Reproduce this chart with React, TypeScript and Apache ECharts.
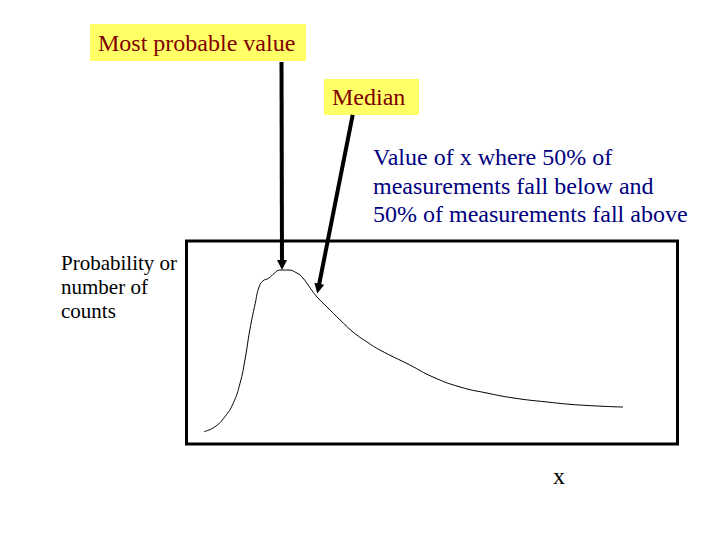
import React, { useEffect, useRef } from 'react';
import * as echarts from 'echarts';

// Curve (arbitrary units: x 0..100 across the box, y 0..100 up the box)
const curveX = [3.6, 5.8, 7.8, 9.5, 10.9, 11.9, 12.9, 14.0, 14.8, 15.6, 16.7, 17.9, 19.0, 20.7, 22.5, 23.7, 25.2, 26.6, 28.6, 31.3, 33.9, 36.8, 39.4, 45.5, 50.2, 55.7, 61.2, 66.5, 73.4, 80.1, 88.9];
const curveY = [6.1, 8.5, 13.4, 20.0, 29.9, 41.4, 56.2, 69.3, 77.5, 80.4, 81.6, 84.1, 85.7, 85.7, 84.2, 81.8, 76.8, 72.4, 67.5, 61.1, 55.2, 50.2, 46.3, 38.9, 33.0, 28.1, 25.1, 22.7, 20.7, 19.2, 18.2];

// Arrows: [start, tip] in the same data units
const modeArrow = [[19.35, 188.2], [19.45, 85.7]];
const medianArrow = [[33.85, 162.1], [26.64, 74.1]];

const modeLabel = 'Most probable value';
const medianLabel = 'Median';
const medianNote = 'Value of x where 50% of\nmeasurements fall below and\n50% of measurements fall above';
const yLabel = 'Probability or\nnumber of\ncounts';
const xLabel = 'x';

const FONT = 'Liberation Serif';

export default function App() {
  const ref = useRef<HTMLDivElement>(null);
  useEffect(() => {
    if (!ref.current) return;
    const chart = echarts.init(ref.current, undefined, { renderer: 'svg' });
    chart.setOption({
      animation: false,
      backgroundColor: '#ffffff',
      textStyle: { fontFamily: FONT },
      grid: {
        left: 186.5,
        top: 241,
        width: 491,
        height: 203,
        show: true,
        borderColor: '#000000',
        borderWidth: 3,
        backgroundColor: 'transparent',
      },
      xAxis: { type: 'value', min: 0, max: 100, show: false },
      yAxis: { type: 'value', min: 0, max: 100, show: false },
      series: [
        {
          type: 'line',
          data: curveX.map((x, i) => [x, curveY[i]]),
          smooth: 0.5,
          showSymbol: false,
          lineStyle: { color: '#000000', width: 1 },
        },
      ],
    });

    const arrowGraphics = (arrow: number[][]) => {
      const s = chart.convertToPixel({ gridIndex: 0 }, arrow[0]) as number[];
      const t = chart.convertToPixel({ gridIndex: 0 }, arrow[1]) as number[];
      const dx = t[0] - s[0];
      const dy = t[1] - s[1];
      const len = Math.sqrt(dx * dx + dy * dy);
      const ux = dx / len;
      const uy = dy / len;
      const L = 10;
      const W = 5;
      const bx = t[0] - ux * L;
      const by = t[1] - uy * L;
      const nx = -uy;
      const ny = ux;
      return [
        {
          type: 'line',
          shape: { x1: s[0], y1: s[1], x2: bx + ux * 1, y2: by + uy * 1 },
          style: { stroke: '#000000', lineWidth: 4 },
          z: 10,
        },
        {
          type: 'polygon',
          shape: {
            points: [
              [t[0], t[1]],
              [bx + nx * W, by + ny * W],
              [bx - nx * W, by - ny * W],
            ],
          },
          style: { fill: '#000000' },
          z: 10,
        },
      ];
    };

    const txt = (text: string, x: number, y: number, size: number, fill: string, extra: any = {}) => ({
      type: 'text',
      z: 6,
      style: {
        text,
        x,
        y,
        align: 'left',
        verticalAlign: 'middle',
        fontFamily: FONT,
        fontSize: size,
        fill,
        ...extra,
      },
    });

    const noteLines = medianNote.split('\n');
    const yLines = yLabel.split('\n');

    chart.setOption({
      graphic: [
        ...arrowGraphics(modeArrow),
        ...arrowGraphics(medianArrow),
        {
          type: 'rect',
          shape: { x: 90, y: 24, width: 216, height: 37 },
          style: { fill: '#ffff66' },
          z: 5,
        },
        txt(modeLabel, 98, 43, 24, '#800000'),
        {
          type: 'rect',
          shape: { x: 324, y: 79, width: 95, height: 36 },
          style: { fill: '#ffff66' },
          z: 5,
        },
        txt(medianLabel, 332, 97, 24, '#800000'),
        ...noteLines.map((l, i) => txt(l, 373, 157 + i * 28.5, 24, '#000080')),
        ...yLines.map((l, i) => txt(l, 61, 263 + i * 24, 21, '#000000')),
        txt(xLabel, 559, 476, 24, '#000000', { align: 'center' }),
      ],
    });
    return () => chart.dispose();
  }, []);
  return (
    <div
      ref={ref}
      style={{ position: 'absolute', left: 0, top: 0, width: 720, height: 540 }}
    />
  );
}
